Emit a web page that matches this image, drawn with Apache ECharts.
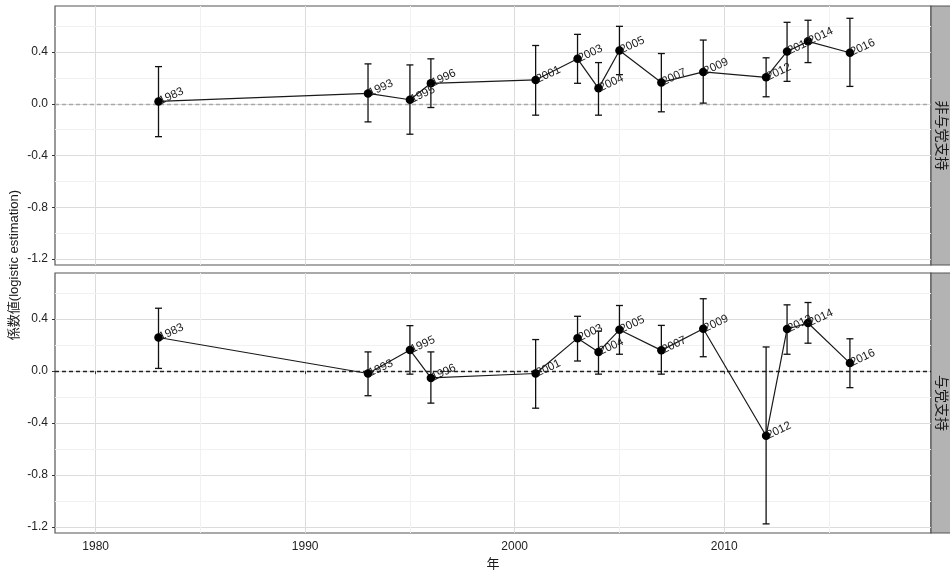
<!DOCTYPE html>
<html>
<head>
<meta charset="utf-8">
<script src="https://cdn.jsdelivr.net/npm/echarts@6/dist/echarts.min.js"></script>
<style>
  html, body { margin: 0; padding: 0; background: #fff; }
  #main { width: 950px; height: 572px; }
</style>
</head>
<body>
<div id="main"></div>
<script>
// 調査年
var years = [1983, 1993, 1995, 1996, 2001, 2003, 2004, 2005, 2007, 2009, 2012, 2013, 2014, 2016];

// 非与党支持 (上段)
var nonRulingEst = [0.018, 0.080, 0.031, 0.158, 0.184, 0.347, 0.119, 0.412, 0.165, 0.246, 0.204, 0.404, 0.482, 0.394];
var nonRulingLo  = [-0.254, -0.140, -0.235, -0.029, -0.088, 0.158, -0.088, 0.225, -0.062, 0.005, 0.054, 0.173, 0.318, 0.134];
var nonRulingHi  = [0.287, 0.308, 0.300, 0.347, 0.450, 0.536, 0.318, 0.598, 0.388, 0.492, 0.355, 0.629, 0.645, 0.660];

// 与党支持 (下段)
var rulingEst = [0.259, -0.018, 0.163, -0.052, -0.018, 0.254, 0.148, 0.318, 0.160, 0.326, -0.497, 0.324, 0.370, 0.062];
var rulingLo  = [0.021, -0.189, -0.023, -0.246, -0.285, 0.078, -0.023, 0.130, -0.023, 0.111, -1.175, 0.130, 0.215, -0.127];
var rulingHi  = [0.484, 0.148, 0.350, 0.148, 0.243, 0.422, 0.308, 0.505, 0.352, 0.557, 0.186, 0.510, 0.528, 0.249];

// 目盛り
var xMajor = [1980, 1990, 2000, 2010];
var xMinor = [1985, 1995, 2005, 2015];
var yMajor = [-1.2, -0.8, -0.4, 0, 0.4];
var yMinor = [-1.0, -0.6, -0.2, 0.2, 0.6];

var panelNames = ['非与党支持', '与党支持'];

var FONT = '"Liberation Sans", "Noto Sans CJK JP", sans-serif';
var X_MIN = 1978.06, X_MAX = 2019.87;
var Y_MIN = -1.245, Y_MAX = 0.755;

var chart = echarts.init(document.getElementById('main'));

var grids = [
  { left: 55, top: 6, width: 876, height: 259 },
  { left: 55, top: 273, width: 876, height: 260 }
];

function xAxisFor(i) {
  var bottom = i === 1;
  return {
    type: 'value',
    gridIndex: i,
    min: X_MIN,
    max: X_MAX,
    axisLine: { show: false },
    axisTick: { show: bottom, length: 3, customValues: xMajor, lineStyle: { color: '#333' } },
    axisLabel: {
      show: bottom, customValues: xMajor, margin: 8, color: '#222', fontSize: 12, fontFamily: FONT,
      formatter: function (v) { return String(v); }
    },
    splitLine: { show: true, lineStyle: { color: '#dcdcdc', width: 1 } }
  };
}

function yAxisFor(i) {
  return {
    type: 'value',
    gridIndex: i,
    min: Y_MIN,
    max: Y_MAX,
    axisLine: { show: false },
    axisTick: { show: true, length: 3, customValues: yMajor, lineStyle: { color: '#333' } },
    axisLabel: {
      customValues: yMajor, margin: 7, color: '#222', fontSize: 12, fontFamily: FONT,
      formatter: function (v) { return v.toFixed(1); }
    },
    splitLine: { show: true, lineStyle: { color: '#dcdcdc', width: 1 } }
  };
}

function pairs(xs, ys) {
  return xs.map(function (x, k) { return [x, ys[k]]; });
}

function errorItems(lo, hi) {
  return years.map(function (y, k) { return [y, lo[k], hi[k]]; });
}

function renderErrorBar(params, api) {
  var x = api.value(0);
  var top = api.coord([x, api.value(2)]);
  var bot = api.coord([x, api.value(1)]);
  var hw = 3.5;
  var style = { stroke: '#111', lineWidth: 1.3 };
  return {
    type: 'group',
    children: [
      { type: 'line', shape: { x1: top[0], y1: top[1], x2: bot[0], y2: bot[1] }, style: style },
      { type: 'line', shape: { x1: top[0] - hw, y1: top[1], x2: top[0] + hw, y2: top[1] }, style: style },
      { type: 'line', shape: { x1: bot[0] - hw, y1: bot[1], x2: bot[0] + hw, y2: bot[1] }, style: style }
    ]
  };
}

function gridLinesFor(i) {
  var minor = { color: '#f1f1f1', width: 1, type: 'solid' };
  var data = [];
  xMinor.forEach(function (v) { data.push({ xAxis: v, lineStyle: minor }); });
  yMinor.forEach(function (v) { data.push({ yAxis: v, lineStyle: minor }); });
  data.push({
    yAxis: 0,
    lineStyle: { color: i === 0 ? '#a8a8a8' : '#222', width: 1.3, type: [4, 3] }
  });
  return {
    type: 'line',
    xAxisIndex: i,
    yAxisIndex: i,
    data: [],
    z: 1,
    silent: true,
    markLine: { z: 1, silent: true, symbol: ['none', 'none'], label: { show: false }, animation: false, data: data }
  };
}

var panelEst = [nonRulingEst, rulingEst];
var panelLo = [nonRulingLo, rulingLo];
var panelHi = [nonRulingHi, rulingHi];

var series = [];
[0, 1].forEach(function (i) {
  series.push(gridLinesFor(i));
  series.push({
    type: 'custom',
    xAxisIndex: i,
    yAxisIndex: i,
    z: 3,
    silent: true,
    renderItem: renderErrorBar,
    encode: { x: 0, y: [1, 2] },
    data: errorItems(panelLo[i], panelHi[i])
  });
  series.push({
    type: 'line',
    name: panelNames[i],
    xAxisIndex: i,
    yAxisIndex: i,
    z: 4,
    data: pairs(years, panelEst[i]),
    symbol: 'circle',
    symbolSize: 8.5,
    itemStyle: { color: '#000' },
    lineStyle: { color: '#1a1a1a', width: 1.2 },
    label: {
      show: true,
      position: 'right',
      distance: -3,
      rotate: 25,
      fontSize: 11.5,
      fontFamily: FONT,
      color: '#1a1a1a',
      formatter: function (p) { return String(p.value[0]); }
    }
  });
});

var option = {
  animation: false,
  backgroundColor: '#fff',
  grid: grids.map(function (g) {
    return Object.assign({ show: true, borderColor: '#555', borderWidth: 1.2, backgroundColor: 'transparent', outerBoundsMode: 'none' }, g);
  }),
  xAxis: [xAxisFor(0), xAxisFor(1)],
  yAxis: [yAxisFor(0), yAxisFor(1)],
  series: series,
  graphic: [
    { type: 'rect', shape: { x: 931, y: 6, width: 22, height: 259 }, style: { fill: '#b3b3b3', stroke: '#555', lineWidth: 1.2 } },
    { type: 'rect', shape: { x: 931, y: 273, width: 22, height: 260 }, style: { fill: '#b3b3b3', stroke: '#555', lineWidth: 1.2 } },
    {
      type: 'text', x: 942, y: 135.5, rotation: -Math.PI / 2,
      style: { text: panelNames[0], fill: '#1a1a1a', font: '14px "Noto Sans CJK JP"', textAlign: 'center', textVerticalAlign: 'middle' }
    },
    {
      type: 'text', x: 942, y: 403, rotation: -Math.PI / 2,
      style: { text: panelNames[1], fill: '#1a1a1a', font: '14px "Noto Sans CJK JP"', textAlign: 'center', textVerticalAlign: 'middle' }
    },
    {
      type: 'text', x: 14, y: 265, rotation: Math.PI / 2,
      style: { text: '係数値(logistic estimation)', fill: '#1a1a1a', font: '13px "Liberation Sans", "Noto Sans CJK JP"', textAlign: 'center', textVerticalAlign: 'middle' }
    },
    {
      type: 'text', x: 493, y: 563,
      style: { text: '年', fill: '#1a1a1a', font: '13px "Noto Sans CJK JP"', textAlign: 'center', textVerticalAlign: 'middle' }
    }
  ]
};

option && chart.setOption(option);
</script>
</body>
</html>
